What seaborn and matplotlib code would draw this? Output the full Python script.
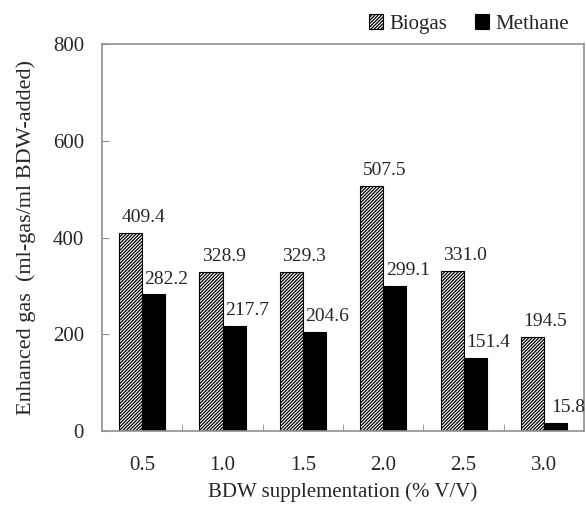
import numpy as np
import pandas as pd
import seaborn as sns
import matplotlib.pyplot as plt

# values
levels = ["0.5", "1.0", "1.5", "2.0", "2.5", "3.0"]
biogas = [409.4, 328.9, 329.3, 507.5, 331.0, 194.5]
methane = [282.2, 217.7, 204.6, 299.1, 151.4, 15.8]

df = pd.DataFrame({
    "level": levels * 2,
    "gas": ["Biogas"] * 6 + ["Methane"] * 6,
    "value": biogas + methane,
})

sns.set_style("white")
plt.rcParams["font.family"] = ["Liberation Serif", "DejaVu Serif"]
plt.rcParams["hatch.linewidth"] = 0.9

fig = plt.figure(figsize=(5.86, 5.07), dpi=100)
ax = fig.add_axes([0.174, 0.150, 0.823, 0.763])

sns.barplot(data=df, x="level", y="value", hue="gas", order=levels,
            hue_order=["Biogas", "Methane"], palette=["white", "black"],
            width=0.575, gap=0, edgecolor="black", linewidth=0.8,
            errorbar=None, legend=False, ax=ax)

# hatch the biogas bars
for patch in ax.containers[0]:
    patch.set_hatch("/" * 10)

# value labels, offset to the right of each bar's centre like the original
for cont in ax.containers:
    for patch in cont:
        h = patch.get_height()
        x = patch.get_x() + patch.get_width()
        ax.annotate(f"{h:.1f}", xy=(x, h), xytext=(1, 5), textcoords="offset points",
                    ha="center", va="bottom", fontsize=14)

ax.set_ylim(0, 800)
ax.set_xlim(-0.5, 5.5)
ax.set_yticks([0, 200, 400, 600, 800])
ax.set_xticks(range(6))
ax.set_xticklabels(levels)
ax.set_xticks(np.arange(0.5, 5.5, 1), minor=True)
ax.tick_params(axis="x", which="major", length=0, labelsize=15, pad=18)
ax.tick_params(axis="x", which="minor", direction="in", length=5, color="#909090", bottom=True)
ax.tick_params(axis="y", direction="in", length=5, color="#909090", labelsize=15, left=True, pad=13)

for sp in ax.spines.values():
    sp.set_color("#909090")
    sp.set_linewidth(1.2)

ax.set_xlabel("BDW supplementation (% V/V)", fontsize=15, labelpad=5)
ax.set_ylabel("Enhanced gas  (ml-gas/ml BDW-added)", fontsize=16, labelpad=12)

ax.legend(handles=[ax.containers[0], ax.containers[1]], labels=["Biogas", "Methane"],
          loc="lower right", bbox_to_anchor=(0.99, 1.0), ncol=2, frameon=False,
          fontsize=15, handlelength=0.7, handleheight=0.7, handletextpad=0.3,
          columnspacing=1.3, borderaxespad=0.1)

fig.savefig("out.png", dpi=100)
